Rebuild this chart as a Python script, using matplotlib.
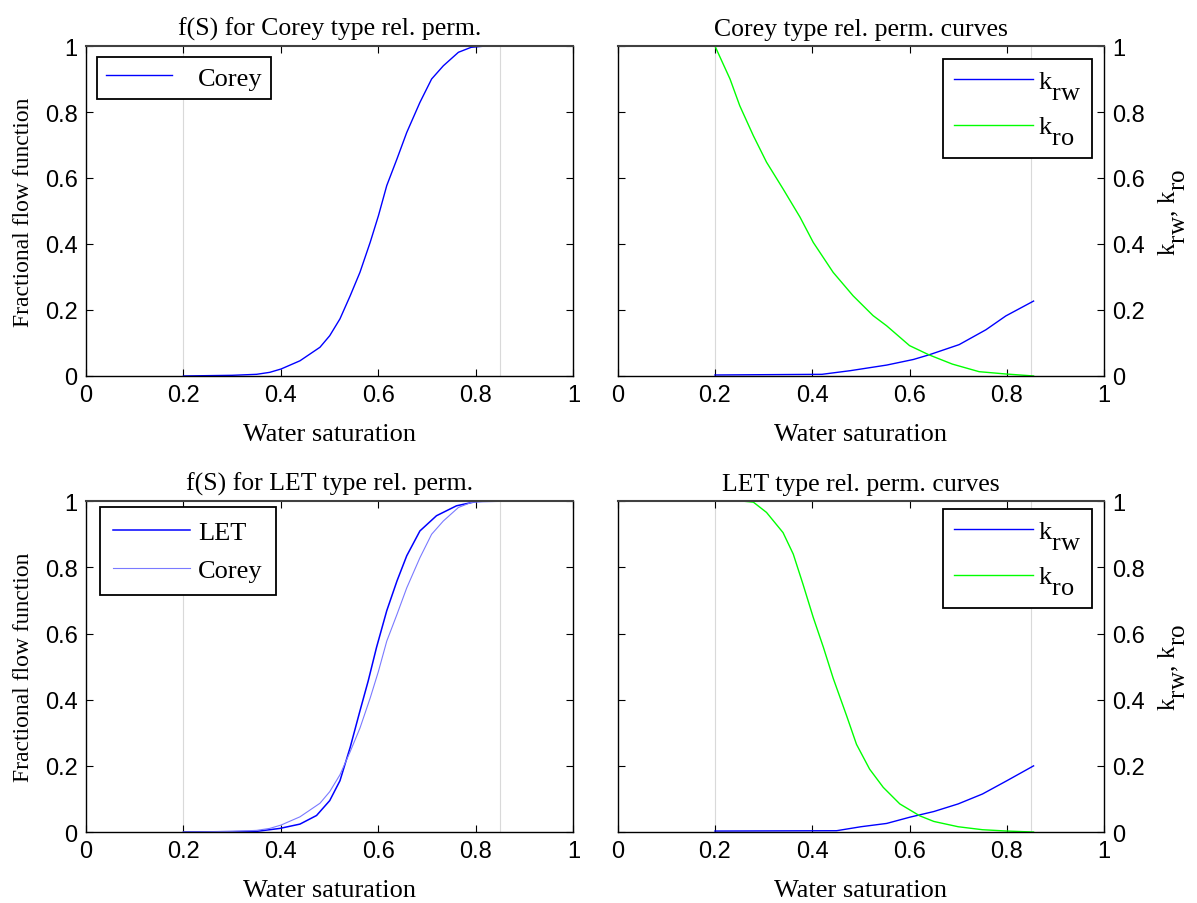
import matplotlib
matplotlib.use("Agg")
import matplotlib.pyplot as plt
import matplotlib._mathtext as mathtext_internal
from matplotlib.ticker import FuncFormatter

# MATLAB-style TeX subscripts: full font size, dropped by about one x-height
mathtext_internal.SHRINK_FACTOR = 1.0
mathtext_internal.FontConstantsBase.sub1 = 0.75

# Corey fractional flow
sw_f_corey = [0.2, 0.3, 0.35, 0.377, 0.4, 0.439, 0.48, 0.5, 0.521, 0.542, 0.562, 0.583,
              0.6, 0.617, 0.638, 0.658, 0.685, 0.709, 0.733, 0.764, 0.79, 0.82, 0.855]
f_corey = [0.0, 0.002, 0.005, 0.011, 0.021, 0.046, 0.087, 0.122, 0.173, 0.243, 0.314, 0.405,
           0.486, 0.577, 0.658, 0.738, 0.829, 0.9, 0.94, 0.981, 0.996, 1.0, 1.0]

# Corey rel. perm.
sw_kro_corey = [0.2, 0.231, 0.251, 0.279, 0.306, 0.34, 0.375, 0.402, 0.443, 0.484, 0.525,
                0.553, 0.6, 0.64, 0.688, 0.743, 0.798, 0.855]
kro_corey = [1.0, 0.9, 0.819, 0.728, 0.648, 0.567, 0.481, 0.405, 0.314, 0.243, 0.183,
             0.152, 0.092, 0.064, 0.036, 0.013, 0.006, 0.0]
sw_krw_corey = [0.2, 0.42, 0.478, 0.553, 0.608, 0.64, 0.702, 0.757, 0.798, 0.855]
krw_corey = [0.003, 0.005, 0.016, 0.033, 0.05, 0.064, 0.095, 0.14, 0.182, 0.227]

# LET fractional flow
sw_f_let = [0.2, 0.35, 0.398, 0.439, 0.473, 0.5, 0.521, 0.542, 0.562, 0.579, 0.596, 0.617,
            0.638, 0.658, 0.685, 0.719, 0.76, 0.801, 0.855]
f_let = [0.0, 0.002, 0.011, 0.024, 0.05, 0.095, 0.155, 0.256, 0.366, 0.457, 0.558, 0.669,
         0.759, 0.835, 0.91, 0.956, 0.986, 0.999, 1.0]

# LET rel. perm.
sw_kro_let = [0.2, 0.258, 0.279, 0.306, 0.34, 0.361, 0.381, 0.402, 0.423, 0.443, 0.471,
              0.491, 0.518, 0.546, 0.58, 0.621, 0.65, 0.7, 0.75, 0.8, 0.855]
kro_let = [1.0, 1.0, 0.997, 0.966, 0.905, 0.84, 0.749, 0.649, 0.558, 0.465, 0.35,
           0.265, 0.19, 0.135, 0.085, 0.049, 0.032, 0.016, 0.007, 0.003, 0.0]
sw_krw_let = [0.2, 0.45, 0.5, 0.553, 0.601, 0.65, 0.7, 0.75, 0.8, 0.855]
krw_let = [0.003, 0.004, 0.016, 0.026, 0.045, 0.062, 0.085, 0.115, 0.155, 0.2]

sw_limits = [0.2, 0.85]
ticks = [0, 0.2, 0.4, 0.6, 0.8, 1]

serif = "Liberation Serif"
sans = "Liberation Sans"
plt.rcParams["font.family"] = sans
plt.rcParams["mathtext.fontset"] = "custom"
plt.rcParams["mathtext.rm"] = serif

BLUE = (0, 0, 1)
GREEN = (0, 1, 0)

fig = plt.figure(figsize=(11.97, 9.04), dpi=100)
positions = [
    [0.0718, 0.583, 0.4073, 0.365],
    [0.5160, 0.583, 0.4064, 0.365],
    [0.0718, 0.0785, 0.4073, 0.366],
    [0.5160, 0.0785, 0.4064, 0.366],
]
axes = [fig.add_axes(p) for p in positions]
titles = ["f(S) for Corey type rel. perm.", "Corey type rel. perm. curves",
          "f(S) for LET type rel. perm.", "LET type rel. perm. curves"]

fmt = FuncFormatter(lambda v, p: "%g" % v)

for i, ax in enumerate(axes):
    for s in sw_limits:
        ax.axvline(s, color="#d9d9d9", lw=0.8, zorder=0)
    ax.set_xlim(0, 1)
    ax.set_ylim(0, 1)
    ax.set_xticks(ticks)
    ax.set_yticks(ticks)
    ax.xaxis.set_major_formatter(fmt)
    ax.yaxis.set_major_formatter(fmt)
    ax.tick_params(direction="in", length=5, width=0.8, top=True, right=True,
                   labelsize=17, pad=6)
    for sp in ax.spines.values():
        sp.set_linewidth(1.0)
    ax.spines["top"].set_color("#404040")
    ax.spines["top"].set_linewidth(1.5)
    ax.set_title(titles[i], fontfamily=serif, fontsize=18.5, pad=8)
    ax.set_xlabel("Water saturation", fontfamily=serif, fontsize=19, labelpad=12)


def make_legend(ax, loc, anchor, hlen, hpad, lspace, bpad):
    leg = ax.legend(loc=loc, bbox_to_anchor=anchor, frameon=True, fancybox=False,
                    framealpha=1, edgecolor="black",
                    prop={"family": serif, "size": 19}, handlelength=hlen,
                    handletextpad=hpad, borderaxespad=0, labelspacing=lspace,
                    borderpad=bpad)
    leg.get_frame().set_linewidth(1.3)
    return leg


# top-left
ax = axes[0]
ax.plot(sw_f_corey, f_corey, color=BLUE, lw=1.0, label="Corey")
ax.set_ylabel("Fractional flow function", fontfamily=serif, fontsize=17, labelpad=8)
make_legend(ax, "upper left", (0.023, 0.967), 2.5, 0.95, 0.5, 0.35)

# top-right
ax = axes[1]
ax.plot(sw_krw_corey, krw_corey, color=BLUE, lw=1.0, label=r"k$_{\rm rw}$")
ax.plot(sw_kro_corey, kro_corey, color=GREEN, lw=1.0, label=r"k$_{\rm ro}$")
ax.yaxis.tick_right()
ax.yaxis.set_label_position("right")
ax.tick_params(left=True, right=True, direction="in")
ax.set_ylabel(r"k$_{\rm rw}$, k$_{\rm ro}$", fontfamily=serif, fontsize=18,
              rotation=90, labelpad=8)
make_legend(ax, "upper right", (0.975, 0.961), 3.0, 0.2, 0.5, 0.4)

# bottom-left
ax = axes[2]
ax.plot(sw_f_let, f_let, color=BLUE, lw=1.1, label="LET")
ax.plot(sw_f_corey, f_corey, color="#7a7aff", lw=0.8, label="Corey")
ax.set_ylabel("Fractional flow function", fontfamily=serif, fontsize=17, labelpad=8)
make_legend(ax, "upper left", (0.029, 0.982), 2.9, 0.3, 0.55, 0.5)

# bottom-right
ax = axes[3]
ax.plot(sw_krw_let, krw_let, color=BLUE, lw=1.0, label=r"k$_{\rm rw}$")
ax.plot(sw_kro_let, kro_let, color=GREEN, lw=1.0, label=r"k$_{\rm ro}$")
ax.yaxis.tick_right()
ax.yaxis.set_label_position("right")
ax.tick_params(left=True, right=True, direction="in")
ax.set_ylabel(r"k$_{\rm rw}$, k$_{\rm ro}$", fontfamily=serif, fontsize=18,
              rotation=90, labelpad=8)
make_legend(ax, "upper right", (0.975, 0.976), 3.0, 0.2, 0.5, 0.4)

fig.savefig("out.png", dpi=100)
